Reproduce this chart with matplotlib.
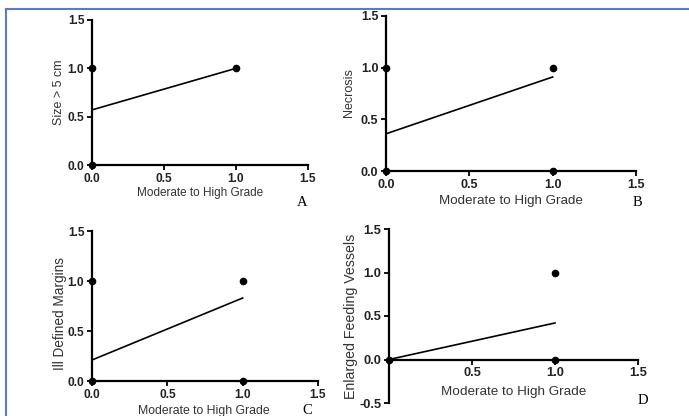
import numpy as np
import matplotlib
matplotlib.use('Agg')
import matplotlib.pyplot as plt
from matplotlib.lines import Line2D

plt.rcParams['font.family'] = ['Liberation Sans', 'DejaVu Sans']

# data
# observed points (x = moderate/high grade, y = feature present)
pts_a_x = [0, 0, 1]
pts_a_y = [1, 0, 1]
pts_b_x = [0, 0, 1, 1]
pts_b_y = [1, 0, 1, 0]
pts_c_x = [0, 0, 1, 1]
pts_c_y = [1, 0, 1, 0]
pts_d_x = [0, 1, 1]
pts_d_y = [0, 1, 0]

# fitted lines (x from 0 to 1)
fit_x = [0, 1]
fit_a = [0.57, 1.00]
fit_b = [0.36, 0.91]
fit_c = [0.21, 0.83]
fit_d = [0.00, 0.42]

ylabels = ['Size > 5 cm', 'Necrosis', 'Ill Defined Margins', 'Enlarged Feeding Vessels']
xlabel = 'Moderate to High Grade'
letters = ['A', 'B', 'C', 'D']

W, H = 689, 416
fig = plt.figure(figsize=(W / 100, H / 100), dpi=100)

def px(x0, x1, y0, y1):
    # pixel box -> figure fraction rect
    return [x0 / W, 1 - y1 / H, (x1 - x0) / W, (y1 - y0) / H]

# axes boxes in pixels (left, right, top, bottom)
boxes = [(92, 308, 20, 165), (386, 636, 16, 171), (92, 318, 231, 381), (389, 638, 229, 403)]
tick_fs = [8.6, 9, 8.6, 9.3]
ylab_fs = [9, 9, 9.8, 10.2]
xlab_fs = [8.5, 9.6, 8.8, 9.7]
pts = [(pts_a_x, pts_a_y), (pts_b_x, pts_b_y), (pts_c_x, pts_c_y), (pts_d_x, pts_d_y)]
fits = [fit_a, fit_b, fit_c, fit_d]
ylab_pos = [(59, 92), (349, 93), (60, 314), (351, 316)]
xlab_pos = [(200, 193), (511, 201), (204, 411), (514, 392)]
let_pos = [(302, 203), (637, 202), (307, 411), (643, 401)]

for i in range(4):
    ax = fig.add_axes(px(*boxes[i]))
    ax.plot(fit_x, fits[i], color='black', lw=1.2, clip_on=False)
    ax.plot(pts[i][0], pts[i][1], 'o', color='black', ms=4.5, clip_on=False, zorder=5)
    ax.set_xlim(0, 1.5)
    if i == 3:
        ax.set_ylim(-0.5, 1.5)
        ax.set_yticks([-0.5, 0.0, 0.5, 1.0, 1.5])
        ax.set_xticks([0.5, 1.0, 1.5])
        ax.spines['bottom'].set_position(('data', 0))
    else:
        ax.set_ylim(0, 1.5)
        ax.set_yticks([0.0, 0.5, 1.0, 1.5])
        ax.set_xticks([0.0, 0.5, 1.0, 1.5])
    ax.yaxis.set_major_formatter(plt.FormatStrFormatter('%.1f'))
    ax.xaxis.set_major_formatter(plt.FormatStrFormatter('%.1f'))
    ax.spines['top'].set_visible(False)
    ax.spines['right'].set_visible(False)
    ax.spines['left'].set_linewidth(1.6)
    ax.spines['bottom'].set_linewidth(1.6)
    ax.tick_params(width=1.3, length=3.5, pad=2, labelsize=tick_fs[i], labelcolor='#222222')
    for lab in ax.get_xticklabels() + ax.get_yticklabels():
        lab.set_fontweight('bold')
    ax.patch.set_alpha(0)
    # labels
    fig.text(ylab_pos[i][0] / W, 1 - ylab_pos[i][1] / H, ylabels[i], rotation=90, ha='center',
             va='center', fontsize=ylab_fs[i], color='#333333')
    fig.text(xlab_pos[i][0] / W, 1 - xlab_pos[i][1] / H, xlabel, ha='center', va='center',
             fontsize=xlab_fs[i], color='#333333')
    fig.text(let_pos[i][0] / W, 1 - let_pos[i][1] / H, letters[i], ha='center', va='center',
             fontsize=10.5, family='Liberation Serif')

# blue frame (top and left edges)
fig.add_artist(Line2D([5.5 / W, 1], [1 - 8.5 / H, 1 - 8.5 / H], color='#5b7bc4', lw=1.5))
fig.add_artist(Line2D([5.5 / W, 5.5 / W], [0, 1 - 8.5 / H], color='#5b7bc4', lw=1.5))

fig.savefig('out.png', dpi=100)
